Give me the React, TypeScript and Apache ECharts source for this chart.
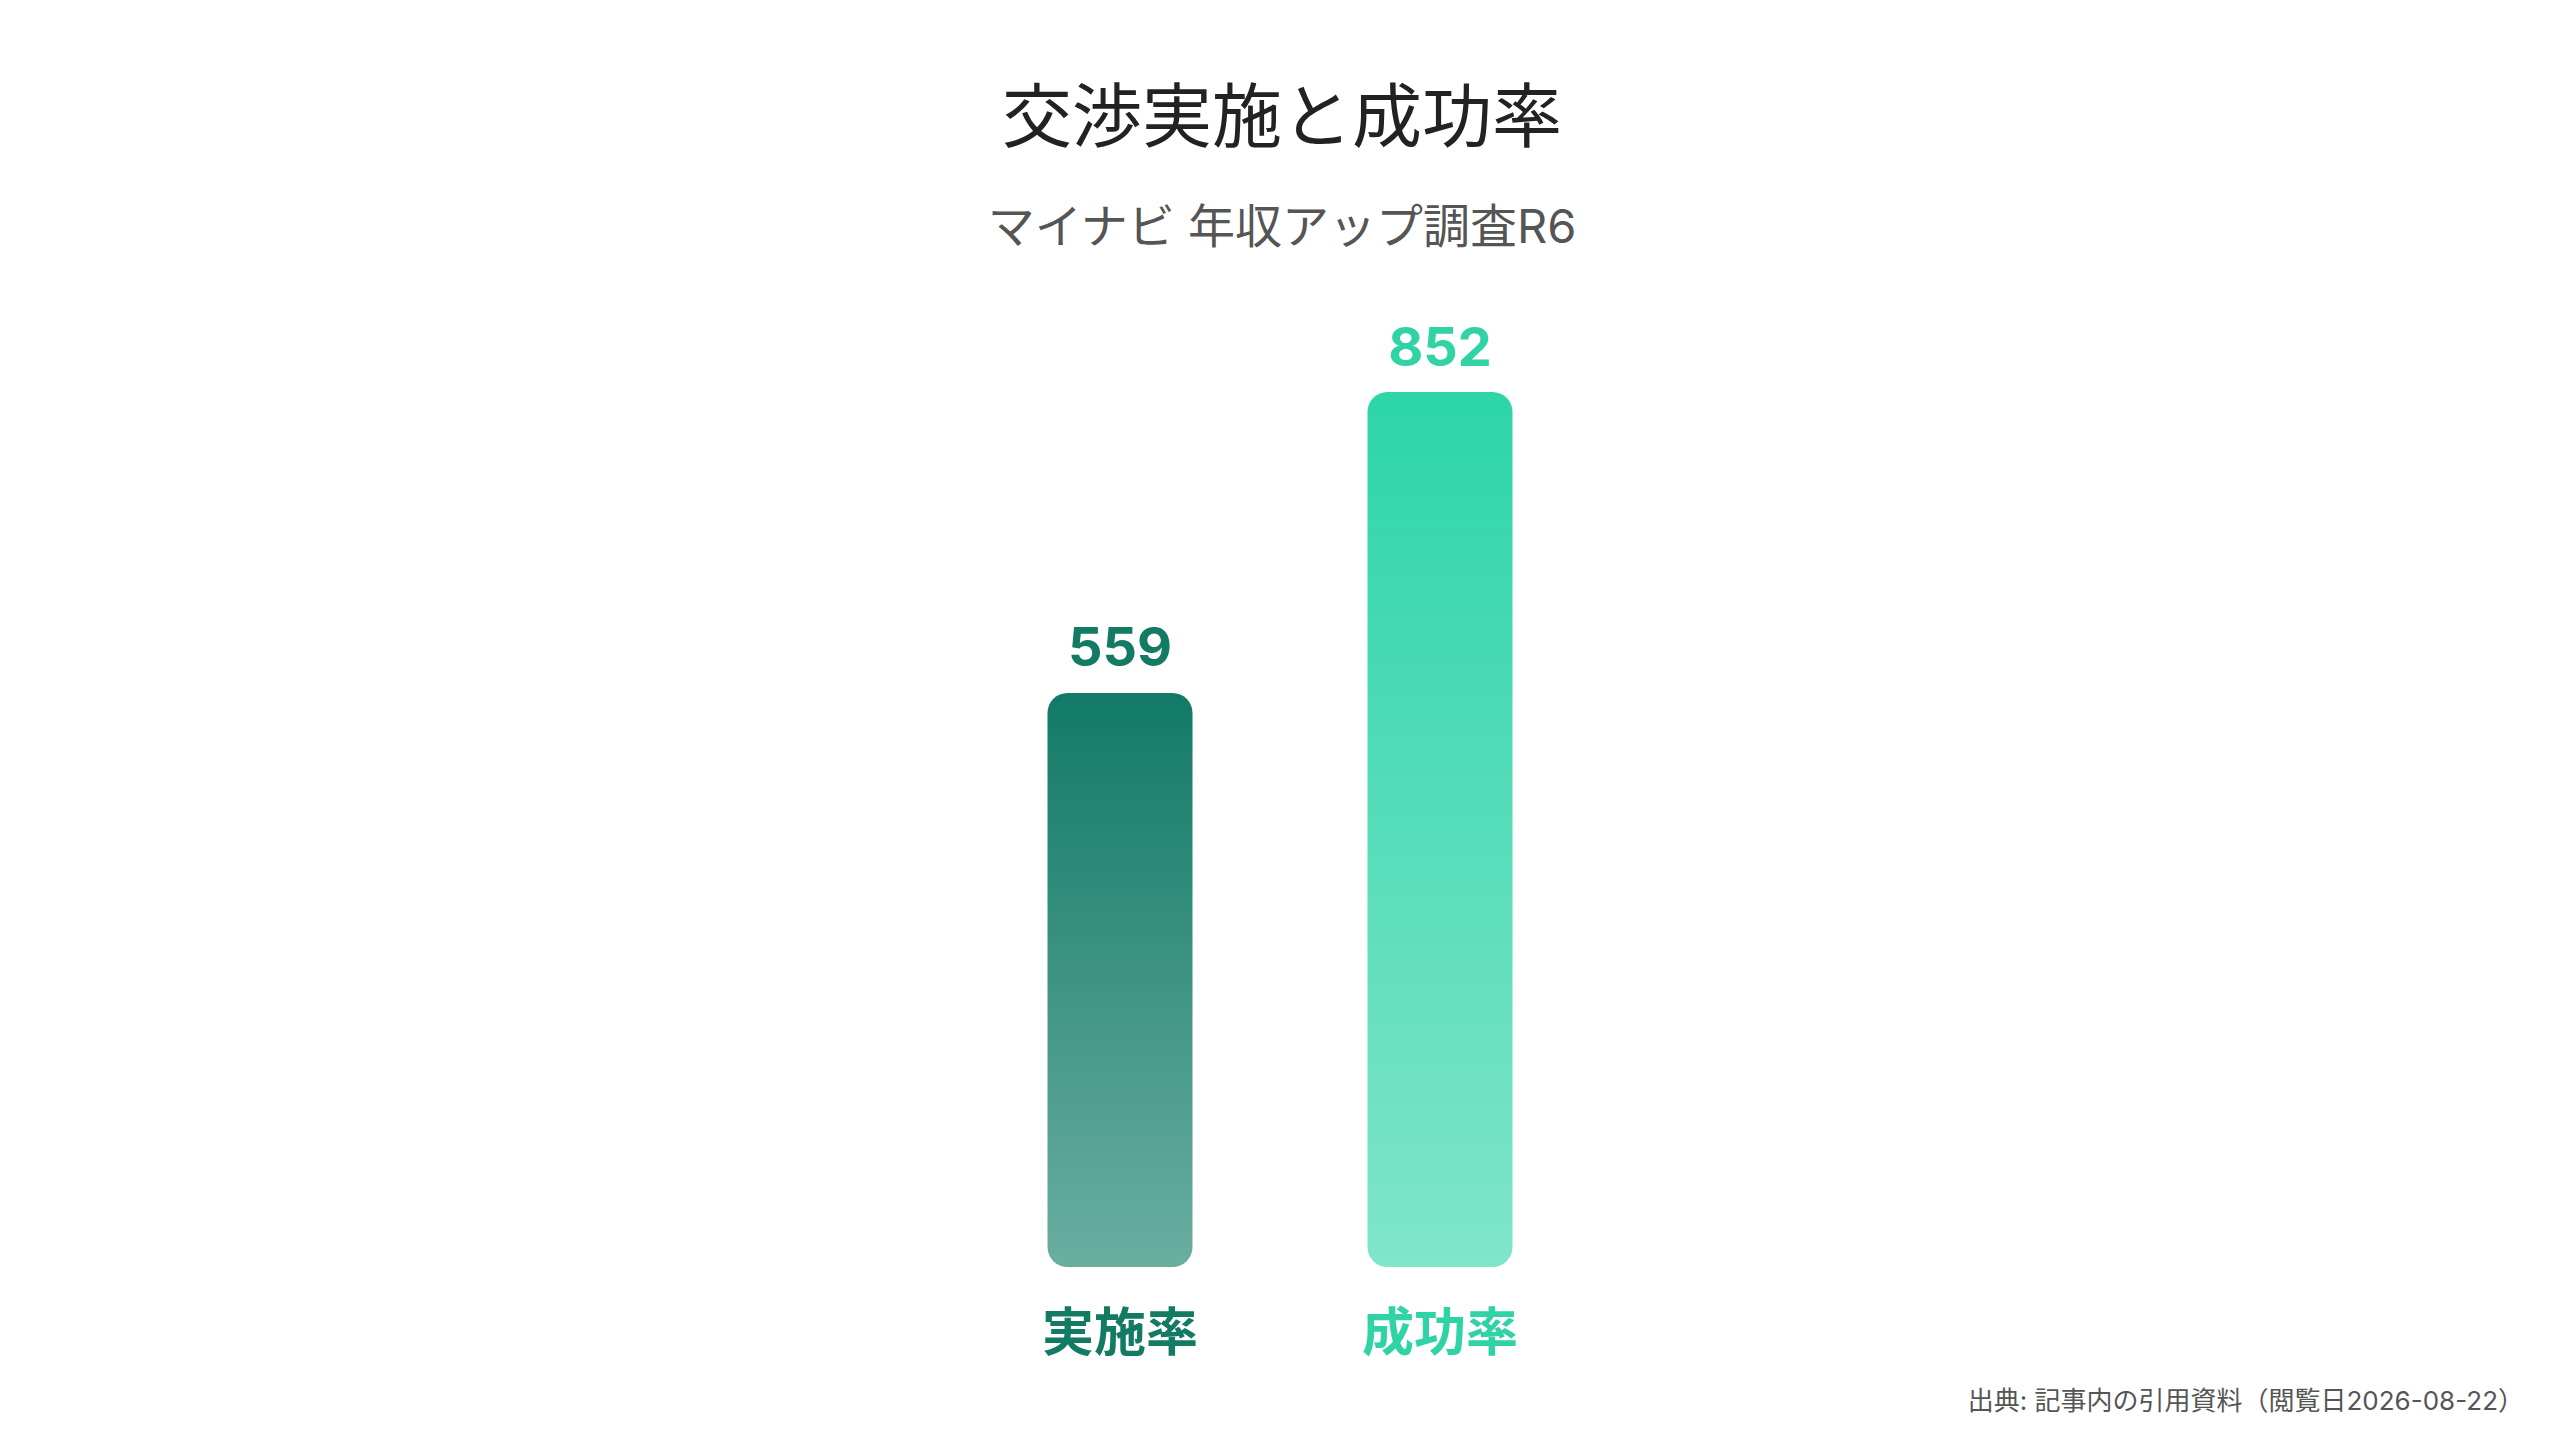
import { useEffect, useRef } from "react";
import * as echarts from "echarts";

const categories = ["実施率", "成功率"];
const values = [559, 852];
const topColors = ["#127a66", "#2dd5a8"];
const bottomColors = ["#6aaea0", "#80e5ca"];
const labelColors = ["#137a64", "#2fd3a5"];

const FONT = "Inter, 'Noto Sans CJK JP', sans-serif";

export default function App(): JSX.Element {
  const ref = useRef<HTMLDivElement | null>(null);

  useEffect(() => {
    document.body.style.margin = "0";
    const el = ref.current;
    if (!el) return;
    const chart = echarts.init(el, null, { renderer: "svg" });
    chart.setOption({
      animation: false,
      backgroundColor: "#ffffff",
      grid: { left: 960, right: 960, top: 240, bottom: 173 },
      xAxis: {
        type: "category",
        data: categories,
        axisLine: { show: false },
        axisTick: { show: false },
        axisLabel: {
          margin: 39,
          formatter: (v: string) => `{c${categories.indexOf(v)}|${v}}`,
          rich: {
            c0: { color: labelColors[0], fontSize: 52, fontWeight: "bold", fontFamily: FONT },
            c1: { color: labelColors[1], fontSize: 52, fontWeight: "bold", fontFamily: FONT },
          },
        },
      },
      yAxis: { type: "value", min: 0, max: 1000, show: false },
      series: [
        {
          type: "bar",
          barWidth: 145,
          data: values.map((v, i) => ({
            value: v,
            itemStyle: {
              borderRadius: 20,
              color: new echarts.graphic.LinearGradient(0, 0, 0, 1, [
                { offset: 0, color: topColors[i] },
                { offset: 1, color: bottomColors[i] },
              ]),
            },
            label: { color: labelColors[i] },
          })),
          label: {
            show: true,
            position: "top",
            distance: 19,
            fontSize: 54,
            fontWeight: "bold",
            fontFamily: FONT,
          },
        },
      ],
      graphic: [
        {
          type: "text",
          x: 1282,
          y: 116,
          style: {
            text: "交渉実施と成功率",
            align: "center",
            verticalAlign: "middle",
            fontSize: 70,
            fill: "#222222",
            fontFamily: FONT,
          },
        },
        {
          type: "text",
          x: 1282,
          y: 225,
          style: {
            text: "マイナビ 年収アップ調査R6",
            align: "center",
            verticalAlign: "middle",
            fontSize: 47,
            fill: "#555555",
            fontFamily: FONT,
          },
        },
        {
          type: "text",
          x: 2524,
          y: 1400,
          style: {
            text: "出典: 記事内の引用資料（閲覧日2026-08-22）",
            align: "right",
            verticalAlign: "middle",
            fontSize: 26,
            fill: "#555555",
            fontFamily: FONT,
          },
        },
      ],
    });
    return () => chart.dispose();
  }, []);

  return <div ref={ref} style={{ width: 2560, height: 1440 }} />;
}
